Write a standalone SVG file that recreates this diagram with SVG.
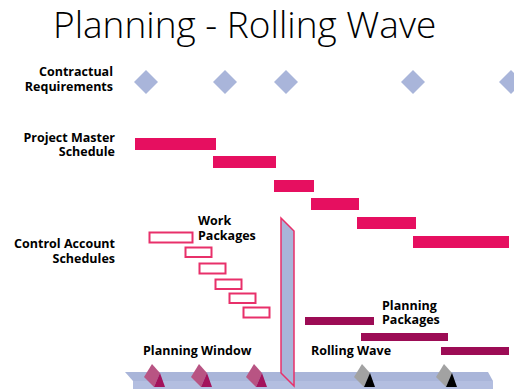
<svg xmlns="http://www.w3.org/2000/svg" xmlns:xlink="http://www.w3.org/1999/xlink" width="514" height="389" viewBox="0 0 514 389">
<defs>
<style>
.title{font-family:"Open Sans","Liberation Sans",sans-serif;font-size:37px;font-weight:300;fill:#000}
.lbl{font-family:"Open Sans","DejaVu Sans",sans-serif;font-size:12.5px;font-weight:700;fill:#000}
.r{text-anchor:end}
.dia{fill:#A9B5DA}
.sched{fill:#E60F60}
.wp{fill:#fff;stroke:#E8306A;stroke-width:2}
.pp{fill:#9C0C55}
.ps{fill:#B85483}
.pf{fill:#A3135C}
.gs{fill:#A2A2A2}
.gf{fill:#000}
</style>
<polygon id="dm" points="0,-12 12,0 0,12 -12,0"/>
<polygon id="side" points="-8,-9 -16,4 -6,14 0,0"/>
<polygon id="front" points="0,0 -6,14 5,14"/>
</defs>
<rect width="514" height="389" fill="#fff"/>
<text class="title" x="53" y="38">Planning - Rolling Wave</text>

<g id="contractual">
<text class="lbl r" x="113" y="76">Contractual</text>
<text class="lbl r" x="113" y="91">Requirements</text>
<use xlink:href="#dm" class="dia" x="146" y="82"/>
<use xlink:href="#dm" class="dia" x="225" y="82"/>
<use xlink:href="#dm" class="dia" x="286" y="82"/>
<use xlink:href="#dm" class="dia" x="413" y="82"/>
<use xlink:href="#dm" class="dia" x="511" y="82"/>
</g>

<g id="master">
<text class="lbl r" x="115" y="142">Project Master</text>
<text class="lbl r" x="115" y="156">Schedule</text>
<rect class="sched" x="135" y="138" width="81" height="12"/>
<rect class="sched" x="213" y="156" width="63" height="12"/>
<rect class="sched" x="274" y="180" width="40" height="12"/>
<rect class="sched" x="311" y="198" width="48" height="12"/>
<rect class="sched" x="357" y="217" width="59" height="12"/>
<rect class="sched" x="413" y="236" width="96" height="12"/>
</g>

<g id="control">
<text class="lbl r" x="115" y="248">Control Account</text>
<text class="lbl r" x="115" y="263">Schedules</text>
</g>

<g id="work">
<text class="lbl" x="198" y="225">Work</text>
<text class="lbl" x="198" y="240">Packages</text>
<rect class="wp" x="149.5" y="232.5" width="43" height="10"/>
<rect class="wp" x="185.5" y="247.5" width="26" height="9.5"/>
<rect class="wp" x="199.5" y="263.5" width="26" height="10"/>
<rect class="wp" x="215.5" y="279.5" width="26" height="9.5"/>
<rect class="wp" x="229.5" y="293.5" width="26" height="9.5"/>
<rect class="wp" x="243.5" y="307.5" width="26" height="10"/>
</g>

<g id="planning">
<text class="lbl" x="382" y="310">Planning</text>
<text class="lbl" x="382" y="324">Packages</text>
<rect class="pp" x="305" y="317" width="69" height="8"/>
<rect class="pp" x="361" y="333" width="87" height="8"/>
<rect class="pp" x="441" y="347" width="68" height="8"/>
</g>

<g id="timeline">
<polygon points="125,372 488,372 493,381 133,381" fill="#A9B5D9"/>
<rect x="133" y="381" width="360" height="8" fill="#B3BEE0"/>
<text class="lbl" x="143" y="355">Planning Window</text>
<text class="lbl" x="311" y="355">Rolling Wave</text>
<use xlink:href="#side" class="ps" x="160" y="373"/>
<use xlink:href="#front" class="pf" x="160" y="373"/>
<use xlink:href="#side" class="ps" x="207" y="373"/>
<use xlink:href="#front" class="pf" x="207" y="373"/>
<use xlink:href="#side" class="ps" x="262" y="373"/>
<use xlink:href="#front" class="pf" x="262" y="373"/>
<use xlink:href="#side" class="gs" x="370" y="373"/>
<use xlink:href="#front" class="gf" x="370" y="373"/>
<use xlink:href="#side" class="gs" x="452" y="373"/>
<use xlink:href="#front" class="gf" x="452" y="373"/>
</g>

<g id="window-divider">
<polygon points="281,218 294,231 294,386 281,373" fill="#A9B5D9" stroke="#E8306A" stroke-width="1.5"/>
</g>
</svg>
